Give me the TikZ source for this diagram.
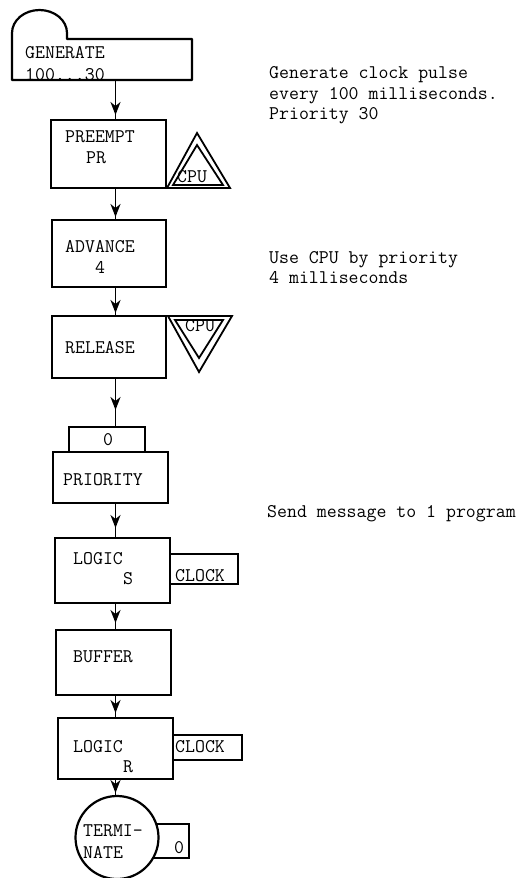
\documentclass[tikz,border=0pt]{standalone}
\usepackage{fontspec}
\usetikzlibrary{arrows.meta,decorations.markings}
\begin{document}
\begin{tikzpicture}[x=1pt,y=1pt,
  blk/.style={draw, line width=2.2pt, inner sep=0pt, outer sep=0pt},
  tri/.style={line width=1.8pt, line join=miter},
  txt/.style={font=\ttfamily\fontsize{19.3}{22}\selectfont, inner sep=0pt, anchor=west},
  note/.style={font=\ttfamily\fontsize{19.3}{22}\selectfont, inner sep=0pt, anchor=base west},
  flow/.style={line width=1.7pt, postaction={decorate},
    decoration={markings, mark=at position -#1 with {\arrow{Stealth[length=13pt,width=10pt,inset=4pt]}}}},
  flow/.default=3pt]
\useasboundingbox (0,0) rectangle (520,-878);

% column along which the flow lines run
\coordinate (spine) at (115.5,0);

% GENERATE block: body with a rounded tab on its top left
\node[inner sep=0pt, outer sep=0pt, minimum width=180pt, minimum height=41pt] (gen) at (102,-59.5) {};
\draw[line width=2.2pt, line join=round]
  (12,-80) -- (12,-33) arc[start angle=180, end angle=0, x radius=27.5pt, y radius=23pt]
  -- (67,-39) -- (192,-39) -- (192,-80) -- cycle;
\node[txt] (genA) at (25,-53) {GENERATE};
\node[txt] (genB) at (25,-75) {100...30};

% PREEMPT with CPU facility (up triangle)
\node[blk, minimum width=115pt, minimum height=68pt] (pre) at (108.5,-154) {};
\node[txt] (preA) at (65,-137) {PREEMPT};
\node[txt] (preB) at (86,-158) {PR};
\draw[tri] (167,-188) -- (197,-133) -- (230,-188) -- cycle;
\draw[tri] (173,-185) -- (197,-145) -- (223,-185) -- cycle;
\node[txt] (cpuA) at (177,-177) {CPU};

% ADVANCE
\node[blk, minimum width=114pt, minimum height=67pt] (adv) at (109,-253.5) {};
\node[txt] (advA) at (65,-247) {ADVANCE};
\node[txt] (advB) at (95,-267) {4};

% RELEASE with CPU facility (down triangle)
\node[blk, minimum width=114pt, minimum height=62pt] (rel) at (109,-347) {};
\node[txt] (relA) at (65,-348) {RELEASE};
\draw[tri] (168,-316) -- (232,-316) -- (199,-372) -- cycle;
\draw[tri] (175,-320) -- (223,-320) -- (199,-358) -- cycle;
\node[txt] (cpuB) at (185,-326) {CPU};

% PRIORITY with its operand box
\node[blk, minimum width=76pt, minimum height=25pt] (prz) at (107,-439.5) {};
\node[txt] (przA) at (103,-440) {0};
\node[blk, minimum width=115pt, minimum height=51pt] (pri) at (110.5,-477.5) {};
\node[txt] (priA) at (63,-480) {PRIORITY};

% LOGIC S
\node[blk, minimum width=115pt, minimum height=65pt] (logs) at (112.5,-570.5) {};
\node[txt] (logsA) at (73,-559) {LOGIC};
\node[txt] (logsB) at (123,-579) {S};
\node[blk, minimum width=68pt, minimum height=30pt] (clks) at (204,-569) {};
\node[txt] (clksA) at (175,-576) {CLOCK};

% BUFFER
\node[blk, minimum width=115pt, minimum height=65pt] (buf) at (113.5,-662.5) {};
\node[txt] (bufA) at (73,-657) {BUFFER};

% LOGIC R
\node[blk, minimum width=115pt, minimum height=61pt] (logr) at (115.5,-748.5) {};
\node[txt] (logrA) at (73,-747) {LOGIC};
\node[txt] (logrB) at (123,-767) {R};
\node[blk, minimum width=69pt, minimum height=25pt] (clkr) at (207.5,-747.5) {};
\node[txt] (clkrA) at (175,-747) {CLOCK};

% TERMINATE
\node[blk, circle, minimum size=83pt] (term) at (117,-837.5) {};
\node[txt] (termA) at (83,-831) {TERMI-};
\node[txt] (termB) at (83,-852) {NATE};
\draw[line width=2.2pt] (term.19) -- ++(33,0) |- (term.-30);
\node[txt] (termC) at (174,-848) {0};

% flow lines
\draw[flow=5pt]  (gen.south -| spine)  -- (pre.north -| spine);
\draw[flow=3pt]  (pre.south -| spine)  -- (adv.north -| spine);
\draw[flow=3pt]  (adv.south -| spine)  -- (rel.north -| spine);
\draw[flow=17pt] (rel.south -| spine)  -- (prz.north -| spine);
\draw[flow=10pt] (pri.south -| spine)  -- (logs.north -| spine);
\draw[flow=7pt]  (logs.south -| spine) -- (buf.north -| spine);
\draw[flow=5pt]  (buf.south -| spine)  -- (logr.north -| spine);
\draw[flow=3pt]  (logr.south -| spine) -- (term.north -| spine);

% comments beside the chart
\node[note] (n1) at (269,-78)  {Generate clock pulse};
\node[note] (n2) at (269,-99)  {every 100 milliseconds.};
\node[note] (n3) at (269,-119) {Priority 30};
\node[note] (n4) at (269,-263) {Use CPU by priority};
\node[note] (n5) at (269,-283) {4 milliseconds};
\node[note] (n6) at (267,-517) {Send message to 1 program};
\end{tikzpicture}
\end{document}
